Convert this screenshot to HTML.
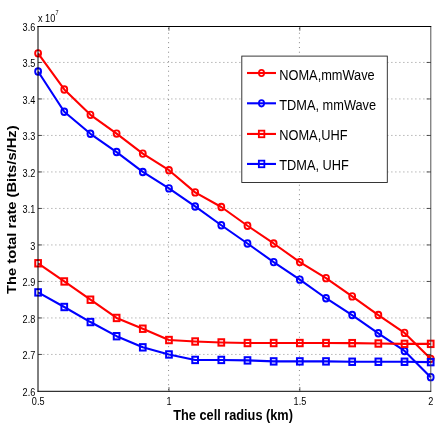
<!DOCTYPE html>
<html><head><meta charset="utf-8"><title>chart</title>
<style>html,body{margin:0;padding:0;background:#fff;}svg{display:block;}text{font-family:"Liberation Sans",sans-serif;fill:#000;}svg{opacity:0.999;will-change:transform;}</style></head><body>
<svg width="443" height="430" viewBox="0 0 443 430">
<rect x="0" y="0" width="443" height="430" fill="#fff"/>
<g stroke="#404040" stroke-width="0.7" stroke-dasharray="0.8,3.2" fill="none"><line x1="39.5" y1="354.45" x2="430.8" y2="354.45"/><line x1="39.5" y1="317.95" x2="430.8" y2="317.95"/><line x1="39.5" y1="281.45" x2="430.8" y2="281.45"/><line x1="39.5" y1="244.95" x2="430.8" y2="244.95"/><line x1="39.5" y1="208.45" x2="430.8" y2="208.45"/><line x1="39.5" y1="171.95" x2="430.8" y2="171.95"/><line x1="39.5" y1="135.45" x2="430.8" y2="135.45"/><line x1="39.5" y1="98.95" x2="430.8" y2="98.95"/><line x1="39.5" y1="62.45" x2="430.8" y2="62.45"/></g>
<g stroke="#404040" stroke-width="0.7" stroke-dasharray="0.9,3.85" fill="none"><line x1="168.57" y1="28.0" x2="168.57" y2="391.3"/><line x1="299.43" y1="28.0" x2="299.43" y2="391.3"/></g>
<polyline points="38.10,53.33 64.27,89.46 90.45,114.83 116.62,133.62 142.79,153.59 168.97,170.20 195.14,192.39 221.31,206.99 247.49,225.75 273.66,243.49 299.83,262.11 326.01,278.17 352.18,296.42 378.35,315.03 404.53,332.92 430.70,358.83" fill="none" stroke="#ff0000" stroke-width="2.1" stroke-linejoin="round"/><ellipse cx="38.10" cy="53.33" rx="2.95" ry="3.25" fill="none" stroke="#ff0000" stroke-width="1.9"/><ellipse cx="64.27" cy="89.46" rx="2.95" ry="3.25" fill="none" stroke="#ff0000" stroke-width="1.9"/><ellipse cx="90.45" cy="114.83" rx="2.95" ry="3.25" fill="none" stroke="#ff0000" stroke-width="1.9"/><ellipse cx="116.62" cy="133.62" rx="2.95" ry="3.25" fill="none" stroke="#ff0000" stroke-width="1.9"/><ellipse cx="142.79" cy="153.59" rx="2.95" ry="3.25" fill="none" stroke="#ff0000" stroke-width="1.9"/><ellipse cx="168.97" cy="170.20" rx="2.95" ry="3.25" fill="none" stroke="#ff0000" stroke-width="1.9"/><ellipse cx="195.14" cy="192.39" rx="2.95" ry="3.25" fill="none" stroke="#ff0000" stroke-width="1.9"/><ellipse cx="221.31" cy="206.99" rx="2.95" ry="3.25" fill="none" stroke="#ff0000" stroke-width="1.9"/><ellipse cx="247.49" cy="225.75" rx="2.95" ry="3.25" fill="none" stroke="#ff0000" stroke-width="1.9"/><ellipse cx="273.66" cy="243.49" rx="2.95" ry="3.25" fill="none" stroke="#ff0000" stroke-width="1.9"/><ellipse cx="299.83" cy="262.11" rx="2.95" ry="3.25" fill="none" stroke="#ff0000" stroke-width="1.9"/><ellipse cx="326.01" cy="278.17" rx="2.95" ry="3.25" fill="none" stroke="#ff0000" stroke-width="1.9"/><ellipse cx="352.18" cy="296.42" rx="2.95" ry="3.25" fill="none" stroke="#ff0000" stroke-width="1.9"/><ellipse cx="378.35" cy="315.03" rx="2.95" ry="3.25" fill="none" stroke="#ff0000" stroke-width="1.9"/><ellipse cx="404.53" cy="332.92" rx="2.95" ry="3.25" fill="none" stroke="#ff0000" stroke-width="1.9"/><ellipse cx="430.70" cy="358.83" rx="2.95" ry="3.25" fill="none" stroke="#ff0000" stroke-width="1.9"/>
<polyline points="38.10,71.47 64.27,111.72 90.45,133.81 116.62,152.06 142.79,171.95 168.97,188.38 195.14,206.44 221.31,225.24 247.49,243.49 273.66,262.11 299.83,279.63 326.01,298.24 352.18,315.03 378.35,333.28 404.53,350.95 430.70,377.15" fill="none" stroke="#0000ff" stroke-width="2.1" stroke-linejoin="round"/><ellipse cx="38.10" cy="71.47" rx="2.95" ry="3.25" fill="none" stroke="#0000ff" stroke-width="1.9"/><ellipse cx="64.27" cy="111.72" rx="2.95" ry="3.25" fill="none" stroke="#0000ff" stroke-width="1.9"/><ellipse cx="90.45" cy="133.81" rx="2.95" ry="3.25" fill="none" stroke="#0000ff" stroke-width="1.9"/><ellipse cx="116.62" cy="152.06" rx="2.95" ry="3.25" fill="none" stroke="#0000ff" stroke-width="1.9"/><ellipse cx="142.79" cy="171.95" rx="2.95" ry="3.25" fill="none" stroke="#0000ff" stroke-width="1.9"/><ellipse cx="168.97" cy="188.38" rx="2.95" ry="3.25" fill="none" stroke="#0000ff" stroke-width="1.9"/><ellipse cx="195.14" cy="206.44" rx="2.95" ry="3.25" fill="none" stroke="#0000ff" stroke-width="1.9"/><ellipse cx="221.31" cy="225.24" rx="2.95" ry="3.25" fill="none" stroke="#0000ff" stroke-width="1.9"/><ellipse cx="247.49" cy="243.49" rx="2.95" ry="3.25" fill="none" stroke="#0000ff" stroke-width="1.9"/><ellipse cx="273.66" cy="262.11" rx="2.95" ry="3.25" fill="none" stroke="#0000ff" stroke-width="1.9"/><ellipse cx="299.83" cy="279.63" rx="2.95" ry="3.25" fill="none" stroke="#0000ff" stroke-width="1.9"/><ellipse cx="326.01" cy="298.24" rx="2.95" ry="3.25" fill="none" stroke="#0000ff" stroke-width="1.9"/><ellipse cx="352.18" cy="315.03" rx="2.95" ry="3.25" fill="none" stroke="#0000ff" stroke-width="1.9"/><ellipse cx="378.35" cy="333.28" rx="2.95" ry="3.25" fill="none" stroke="#0000ff" stroke-width="1.9"/><ellipse cx="404.53" cy="350.95" rx="2.95" ry="3.25" fill="none" stroke="#0000ff" stroke-width="1.9"/><ellipse cx="430.70" cy="377.15" rx="2.95" ry="3.25" fill="none" stroke="#0000ff" stroke-width="1.9"/>
<polyline points="38.10,263.27 64.27,281.45 90.45,299.70 116.62,317.95 142.79,328.72 168.97,340.03 195.14,341.49 221.31,342.44 247.49,343.03 273.66,343.03 299.83,343.03 326.01,343.03 352.18,343.14 378.35,343.50 404.53,343.87 430.70,343.87" fill="none" stroke="#ff0000" stroke-width="2.1" stroke-linejoin="round"/><rect x="35.25" y="260.07" width="5.7" height="6.4" fill="none" stroke="#ff0000" stroke-width="2"/><rect x="61.42" y="278.25" width="5.7" height="6.4" fill="none" stroke="#ff0000" stroke-width="2"/><rect x="87.60" y="296.50" width="5.7" height="6.4" fill="none" stroke="#ff0000" stroke-width="2"/><rect x="113.77" y="314.75" width="5.7" height="6.4" fill="none" stroke="#ff0000" stroke-width="2"/><rect x="139.94" y="325.52" width="5.7" height="6.4" fill="none" stroke="#ff0000" stroke-width="2"/><rect x="166.12" y="336.83" width="5.7" height="6.4" fill="none" stroke="#ff0000" stroke-width="2"/><rect x="192.29" y="338.29" width="5.7" height="6.4" fill="none" stroke="#ff0000" stroke-width="2"/><rect x="218.46" y="339.24" width="5.7" height="6.4" fill="none" stroke="#ff0000" stroke-width="2"/><rect x="244.64" y="339.83" width="5.7" height="6.4" fill="none" stroke="#ff0000" stroke-width="2"/><rect x="270.81" y="339.83" width="5.7" height="6.4" fill="none" stroke="#ff0000" stroke-width="2"/><rect x="296.98" y="339.83" width="5.7" height="6.4" fill="none" stroke="#ff0000" stroke-width="2"/><rect x="323.16" y="339.83" width="5.7" height="6.4" fill="none" stroke="#ff0000" stroke-width="2"/><rect x="349.33" y="339.94" width="5.7" height="6.4" fill="none" stroke="#ff0000" stroke-width="2"/><rect x="375.50" y="340.30" width="5.7" height="6.4" fill="none" stroke="#ff0000" stroke-width="2"/><rect x="401.68" y="340.67" width="5.7" height="6.4" fill="none" stroke="#ff0000" stroke-width="2"/><rect x="427.85" y="340.67" width="5.7" height="6.4" fill="none" stroke="#ff0000" stroke-width="2"/>
<polyline points="38.10,292.40 64.27,307.00 90.45,322.04 116.62,336.20 142.79,347.33 168.97,354.45 195.14,359.93 221.31,359.93 247.49,360.40 273.66,361.38 299.83,361.38 326.01,361.38 352.18,361.75 378.35,361.75 404.53,361.75 430.70,362.12" fill="none" stroke="#0000ff" stroke-width="2.1" stroke-linejoin="round"/><rect x="35.25" y="289.20" width="5.7" height="6.4" fill="none" stroke="#0000ff" stroke-width="2"/><rect x="61.42" y="303.80" width="5.7" height="6.4" fill="none" stroke="#0000ff" stroke-width="2"/><rect x="87.60" y="318.84" width="5.7" height="6.4" fill="none" stroke="#0000ff" stroke-width="2"/><rect x="113.77" y="333.00" width="5.7" height="6.4" fill="none" stroke="#0000ff" stroke-width="2"/><rect x="139.94" y="344.13" width="5.7" height="6.4" fill="none" stroke="#0000ff" stroke-width="2"/><rect x="166.12" y="351.25" width="5.7" height="6.4" fill="none" stroke="#0000ff" stroke-width="2"/><rect x="192.29" y="356.73" width="5.7" height="6.4" fill="none" stroke="#0000ff" stroke-width="2"/><rect x="218.46" y="356.73" width="5.7" height="6.4" fill="none" stroke="#0000ff" stroke-width="2"/><rect x="244.64" y="357.20" width="5.7" height="6.4" fill="none" stroke="#0000ff" stroke-width="2"/><rect x="270.81" y="358.19" width="5.7" height="6.4" fill="none" stroke="#0000ff" stroke-width="2"/><rect x="296.98" y="358.19" width="5.7" height="6.4" fill="none" stroke="#0000ff" stroke-width="2"/><rect x="323.16" y="358.19" width="5.7" height="6.4" fill="none" stroke="#0000ff" stroke-width="2"/><rect x="349.33" y="358.55" width="5.7" height="6.4" fill="none" stroke="#0000ff" stroke-width="2"/><rect x="375.50" y="358.55" width="5.7" height="6.4" fill="none" stroke="#0000ff" stroke-width="2"/><rect x="401.68" y="358.55" width="5.7" height="6.4" fill="none" stroke="#0000ff" stroke-width="2"/><rect x="427.85" y="358.92" width="5.7" height="6.4" fill="none" stroke="#0000ff" stroke-width="2"/>
<line x1="38.0" y1="26.0" x2="38.0" y2="391.8" stroke="#000" stroke-width="1"/>
<line x1="430.8" y1="26.0" x2="430.8" y2="391.8" stroke="#333" stroke-width="0.85"/>
<line x1="37.5" y1="26.5" x2="431.2" y2="26.5" stroke="#000" stroke-width="1"/>
<line x1="37.5" y1="391.3" x2="431.2" y2="391.3" stroke="#000" stroke-width="1"/>
<g stroke="#000" stroke-width="0.65"><line x1="38.0" y1="354.45" x2="42.2" y2="354.45"/><line x1="430.8" y1="354.45" x2="426.6" y2="354.45"/><line x1="38.0" y1="317.95" x2="42.2" y2="317.95"/><line x1="430.8" y1="317.95" x2="426.6" y2="317.95"/><line x1="38.0" y1="281.45" x2="42.2" y2="281.45"/><line x1="430.8" y1="281.45" x2="426.6" y2="281.45"/><line x1="38.0" y1="244.95" x2="42.2" y2="244.95"/><line x1="430.8" y1="244.95" x2="426.6" y2="244.95"/><line x1="38.0" y1="208.45" x2="42.2" y2="208.45"/><line x1="430.8" y1="208.45" x2="426.6" y2="208.45"/><line x1="38.0" y1="171.95" x2="42.2" y2="171.95"/><line x1="430.8" y1="171.95" x2="426.6" y2="171.95"/><line x1="38.0" y1="135.45" x2="42.2" y2="135.45"/><line x1="430.8" y1="135.45" x2="426.6" y2="135.45"/><line x1="38.0" y1="98.95" x2="42.2" y2="98.95"/><line x1="430.8" y1="98.95" x2="426.6" y2="98.95"/><line x1="38.0" y1="62.45" x2="42.2" y2="62.45"/><line x1="430.8" y1="62.45" x2="426.6" y2="62.45"/><line x1="168.97" y1="391.3" x2="168.97" y2="387.1"/><line x1="168.97" y1="26.5" x2="168.97" y2="30.7"/><line x1="299.83" y1="391.3" x2="299.83" y2="387.1"/><line x1="299.83" y1="26.5" x2="299.83" y2="30.7"/></g>
<text transform="translate(35.30,395.70) scale(0.83,1)" font-size="11" text-anchor="end" font-weight="normal">2.6</text>
<text transform="translate(35.30,359.20) scale(0.83,1)" font-size="11" text-anchor="end" font-weight="normal">2.7</text>
<text transform="translate(35.30,322.70) scale(0.83,1)" font-size="11" text-anchor="end" font-weight="normal">2.8</text>
<text transform="translate(35.30,286.20) scale(0.83,1)" font-size="11" text-anchor="end" font-weight="normal">2.9</text>
<text transform="translate(35.30,249.70) scale(0.83,1)" font-size="11" text-anchor="end" font-weight="normal">3</text>
<text transform="translate(35.30,213.20) scale(0.83,1)" font-size="11" text-anchor="end" font-weight="normal">3.1</text>
<text transform="translate(35.30,176.70) scale(0.83,1)" font-size="11" text-anchor="end" font-weight="normal">3.2</text>
<text transform="translate(35.30,140.20) scale(0.83,1)" font-size="11" text-anchor="end" font-weight="normal">3.3</text>
<text transform="translate(35.30,103.70) scale(0.83,1)" font-size="11" text-anchor="end" font-weight="normal">3.4</text>
<text transform="translate(35.30,67.20) scale(0.83,1)" font-size="11" text-anchor="end" font-weight="normal">3.5</text>
<text transform="translate(35.30,30.70) scale(0.83,1)" font-size="11" text-anchor="end" font-weight="normal">3.6</text>
<text transform="translate(38.20,404.60) scale(0.83,1)" font-size="11" text-anchor="middle" font-weight="normal">0.5</text>
<text transform="translate(169.07,404.60) scale(0.83,1)" font-size="11" text-anchor="middle" font-weight="normal">1</text>
<text transform="translate(299.93,404.60) scale(0.83,1)" font-size="11" text-anchor="middle" font-weight="normal">1.5</text>
<text transform="translate(430.80,404.60) scale(0.83,1)" font-size="11" text-anchor="middle" font-weight="normal">2</text>
<text transform="translate(38.00,21.60) scale(0.895,1)" font-size="10.2" text-anchor="start" font-weight="normal">x 10</text>
<text transform="translate(55.40,15.00) scale(0.83,1)" font-size="6.6" text-anchor="start" font-weight="normal">7</text>
<text transform="translate(233.10,420.00) scale(0.85,1)" font-size="15" text-anchor="middle" font-weight="bold">The cell radius (km)</text>
<text transform="translate(16.0,209.7) rotate(-90) scale(0.982,0.79)" font-size="15" font-weight="bold" text-anchor="middle">The total rate (Bits/s/Hz)</text>
<rect x="241.8" y="56.1" width="145.5" height="126.4" fill="#fff" stroke="#222" stroke-width="0.9"/>
<line x1="247.0" y1="73.0" x2="276.0" y2="73.0" stroke="#ff0000" stroke-width="2.1"/>
<ellipse cx="261.5" cy="73.0" rx="2.6" ry="3.2" fill="none" stroke="#ff0000" stroke-width="1.8"/>
<text transform="translate(279.30,79.50) scale(0.883,1)" font-size="14.5" text-anchor="start" font-weight="normal">NOMA,mmWave</text>
<line x1="247.0" y1="103.3" x2="276.0" y2="103.3" stroke="#0000ff" stroke-width="2.1"/>
<ellipse cx="261.5" cy="103.3" rx="2.6" ry="3.2" fill="none" stroke="#0000ff" stroke-width="1.8"/>
<text transform="translate(279.30,109.50) scale(0.883,1)" font-size="14.5" text-anchor="start" font-weight="normal">TDMA, mmWave</text>
<line x1="247.0" y1="133.95" x2="276.0" y2="133.95" stroke="#ff0000" stroke-width="2.1"/>
<rect x="258.85" y="130.64999999999998" width="5.5" height="6.6" fill="none" stroke="#ff0000" stroke-width="1.8"/>
<text transform="translate(279.30,140.00) scale(0.883,1)" font-size="14.5" text-anchor="start" font-weight="normal">NOMA,UHF</text>
<line x1="247.0" y1="163.95" x2="276.0" y2="163.95" stroke="#0000ff" stroke-width="2.1"/>
<rect x="258.85" y="160.64999999999998" width="5.5" height="6.6" fill="none" stroke="#0000ff" stroke-width="1.8"/>
<text transform="translate(279.30,169.60) scale(0.883,1)" font-size="14.5" text-anchor="start" font-weight="normal">TDMA, UHF</text>
</svg></body></html>
